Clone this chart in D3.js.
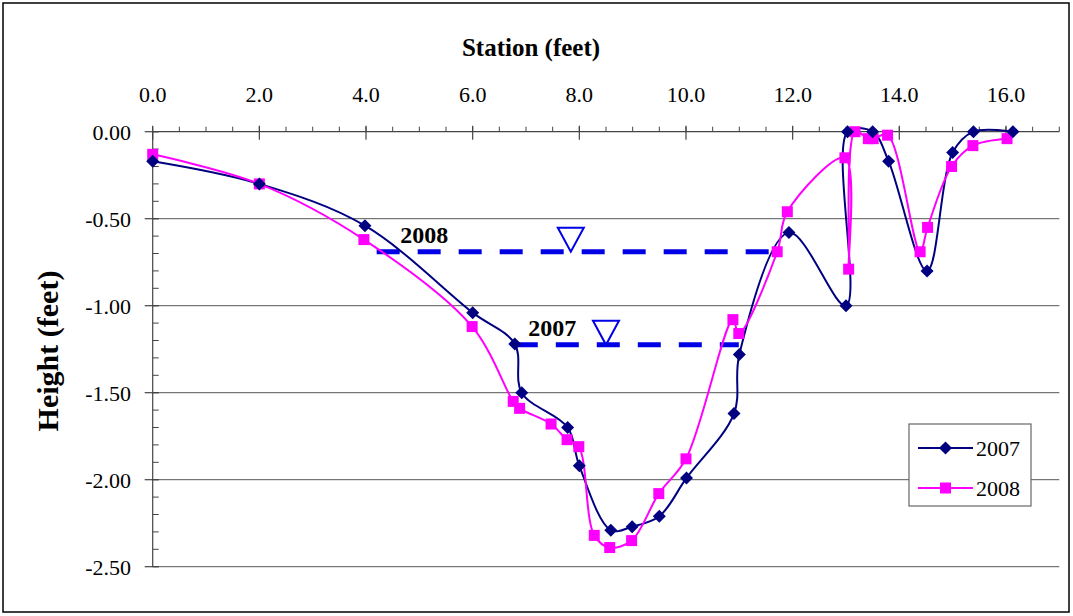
<!DOCTYPE html>
<html><head><meta charset="utf-8">
<script src="https://cdn.jsdelivr.net/npm/d3@7"></script>
<style>
html,body{margin:0;padding:0;background:#fff;}
text{font-family:"Liberation Serif","Times New Roman","DejaVu Serif",serif;}
</style></head>
<body>
<svg id="chart" width="1073" height="616"></svg>
<script>
// ---- data ----
const series = ["2007", "2008"];
const x2007 = [0, 2.0, 3.98, 6.0, 6.79, 6.92, 7.78, 8.0, 8.59, 8.99, 9.5, 10.01, 10.9, 11.0, 11.93, 13.0, 13.03, 13.5, 13.8, 14.52, 15.0, 15.39, 16.13];
const y2007 = [-0.17, -0.30, -0.54, -1.04, -1.22, -1.50, -1.70, -1.92, -2.29, -2.27, -2.21, -1.99, -1.62, -1.28, -0.58, -1.00, 0.00, 0.00, -0.17, -0.80, -0.12, 0.00, 0.00];
const x2008 = [0, 2.0, 3.96, 5.99, 6.76, 6.88, 7.47, 7.77, 7.99, 8.28, 8.57, 8.98, 9.49, 10.0, 10.88, 10.99, 11.71, 11.9, 12.98, 13.05, 13.17, 13.42, 13.51, 13.78, 14.39, 14.53, 14.98, 15.38, 16.02];
const y2008 = [-0.13, -0.30, -0.62, -1.12, -1.55, -1.59, -1.68, -1.77, -1.81, -2.32, -2.39, -2.35, -2.08, -1.88, -1.08, -1.16, -0.69, -0.46, -0.15, -0.79, 0.00, -0.04, -0.04, -0.02, -0.69, -0.55, -0.20, -0.08, -0.04];
// water surface lines
const wlYears = ["2008", "2007"];
const wlHeights = [-0.69, -1.225];
const wlStart = [4.2, 6.79];
const wlEnd = [11.69, 10.99];
const wlMarkerX = [7.84, 8.50];
const wlLabelX = [4.64, 7.04];
// axis ticks
const xTicks = [0, 2, 4, 6, 8, 10, 12, 14, 16];
const yTicks = [0, -0.5, -1.0, -1.5, -2.0, -2.5];
const xTitle = "Station (feet)";
const yTitle = "Height (feet)";

// ---- layout ----
const FONT = "'Liberation Serif','Times New Roman','DejaVu Serif',serif";
const svg = d3.select("#chart");
const L = 152.7, R = 1059.3, T = 131.7, B = 566.7;
const x = d3.scaleLinear().domain([0, 17]).range([L, R]);
const y = d3.scaleLinear().domain([-2.5, 0]).range([B, T]);
const colors = {"2007": "#000080", "2008": "#ff00ff"};

svg.append("rect").attr("x", 3).attr("y", 3).attr("width", 1066).attr("height", 609)
  .attr("fill", "#fff").attr("stroke", "#000").attr("stroke-width", 1.5);

// gridlines
svg.append("g").selectAll("line").data(yTicks.filter(d => d !== 0)).join("line")
  .attr("x1", L).attr("x2", R).attr("y1", d => y(d)).attr("y2", d => y(d))
  .attr("stroke", "#555").attr("stroke-width", 1);

// x axis (top)
const xMinor = d3.range(0, 17.001, 0.5);
const gx = svg.append("g");
gx.append("line").attr("x1", L).attr("x2", R).attr("y1", T).attr("y2", T).attr("stroke", "#444").attr("stroke-width", 1.2);
gx.selectAll("line.mn").data(xMinor).join("line").attr("class", "mn")
  .attr("x1", d => x(d)).attr("x2", d => x(d)).attr("y1", T - 5).attr("y2", T)
  .attr("stroke", "#444").attr("stroke-width", 1);
gx.selectAll("line.mj").data(xTicks).join("line").attr("class", "mj")
  .attr("x1", d => x(d)).attr("x2", d => x(d)).attr("y1", T - 6).attr("y2", T + 8)
  .attr("stroke", "#444").attr("stroke-width", 1.2);
gx.selectAll("text").data(xTicks).join("text")
  .attr("x", d => x(d)).attr("y", 102).attr("text-anchor", "middle")
  .attr("font-family", FONT).attr("font-size", 22).text(d3.format(".1f"));

// y axis (left)
const yMinor = d3.range(-2.5, 0.001, 0.1);
const gy = svg.append("g");
gy.append("line").attr("x1", L).attr("x2", L).attr("y1", T).attr("y2", B).attr("stroke", "#444").attr("stroke-width", 1.2);
gy.selectAll("line.mn").data(yMinor).join("line").attr("class", "mn")
  .attr("x1", L).attr("x2", L + 6).attr("y1", d => y(d)).attr("y2", d => y(d))
  .attr("stroke", "#444").attr("stroke-width", 1);
gy.selectAll("line.mj").data(yTicks).join("line").attr("class", "mj")
  .attr("x1", L - 8).attr("x2", L + 6).attr("y1", d => y(d)).attr("y2", d => y(d))
  .attr("stroke", "#444").attr("stroke-width", 1.2);
gy.selectAll("text").data(yTicks).join("text")
  .attr("x", 131).attr("y", d => y(d) + 8).attr("text-anchor", "end")
  .attr("font-family", FONT).attr("font-size", 22).text(d => d3.format(".2f")(d).replace("−", "-"));

// titles
svg.append("text").attr("x", 531).attr("y", 56).attr("text-anchor", "middle")
  .attr("font-family", FONT).attr("font-size", 25).attr("font-weight", "bold").text(xTitle);
svg.append("text").attr("transform", "translate(58,351) rotate(-90)").attr("text-anchor", "middle")
  .attr("font-family", FONT).attr("font-size", 30).attr("font-weight", "bold").text(yTitle);

// water lines
const gw = svg.append("g");
wlYears.forEach((yr, i) => {
  const yy = y(wlHeights[i]);
  gw.append("line").attr("x1", x(wlStart[i])).attr("x2", x(wlEnd[i])).attr("y1", yy).attr("y2", yy)
    .attr("stroke", "#0000e6").attr("stroke-width", 5).attr("stroke-dasharray", "23,18");
  const cx = x(wlMarkerX[i]);
  gw.append("path").attr("d", `M${cx - 13},${yy - 24} L${cx + 13},${yy - 24} L${cx},${yy} Z`)
    .attr("fill", "none").attr("stroke", "#0000e6").attr("stroke-width", 2);
  gw.append("text").attr("x", x(wlLabelX[i])).attr("y", yy - 9)
    .attr("font-family", FONT).attr("font-size", 24).attr("font-weight", "bold").text(yr);
});

// series
const curve = d3.curveCatmullRom.alpha(0.5);
const line = d3.line().x(d => x(d[0])).y(d => y(d[1])).curve(curve);
const data = {
  "2007": x2007.map((v, i) => [v, y2007[i]]),
  "2008": x2008.map((v, i) => [v, y2008[i]])
};
const diamond = s => `M0,${-s} L${s},0 L0,${s} L${-s},0 Z`;
const square = s => `M${-s},${-s} H${s} V${s} H${-s} Z`;
series.forEach(s => {
  svg.append("path").datum(data[s]).attr("d", line).attr("fill", "none")
    .attr("stroke", colors[s]).attr("stroke-width", 2);
});
["2008", "2007"].forEach(s => {
  svg.append("g").selectAll("path").data(data[s]).join("path")
    .attr("transform", d => `translate(${x(d[0])},${y(d[1])})`)
    .attr("d", s === "2007" ? diamond(6.5) : square(5.5))
    .attr("fill", colors[s]);
});

// legend
const lg = svg.append("g");
lg.append("rect").attr("x", 909).attr("y", 424).attr("width", 122).attr("height", 82)
  .attr("fill", "#fff").attr("stroke", "#666").attr("stroke-width", 1.2);
series.forEach((s, i) => {
  const yy = 448 + i * 40;
  lg.append("line").attr("x1", 918).attr("x2", 973).attr("y1", yy).attr("y2", yy)
    .attr("stroke", colors[s]).attr("stroke-width", 2);
  lg.append("path").attr("transform", `translate(945.5,${yy})`)
    .attr("d", s === "2007" ? diamond(6.5) : square(5.5)).attr("fill", colors[s]);
  lg.append("text").attr("x", 976).attr("y", yy + 8).attr("font-family", FONT).attr("font-size", 22).text(s);
});
</script>
</body></html>
